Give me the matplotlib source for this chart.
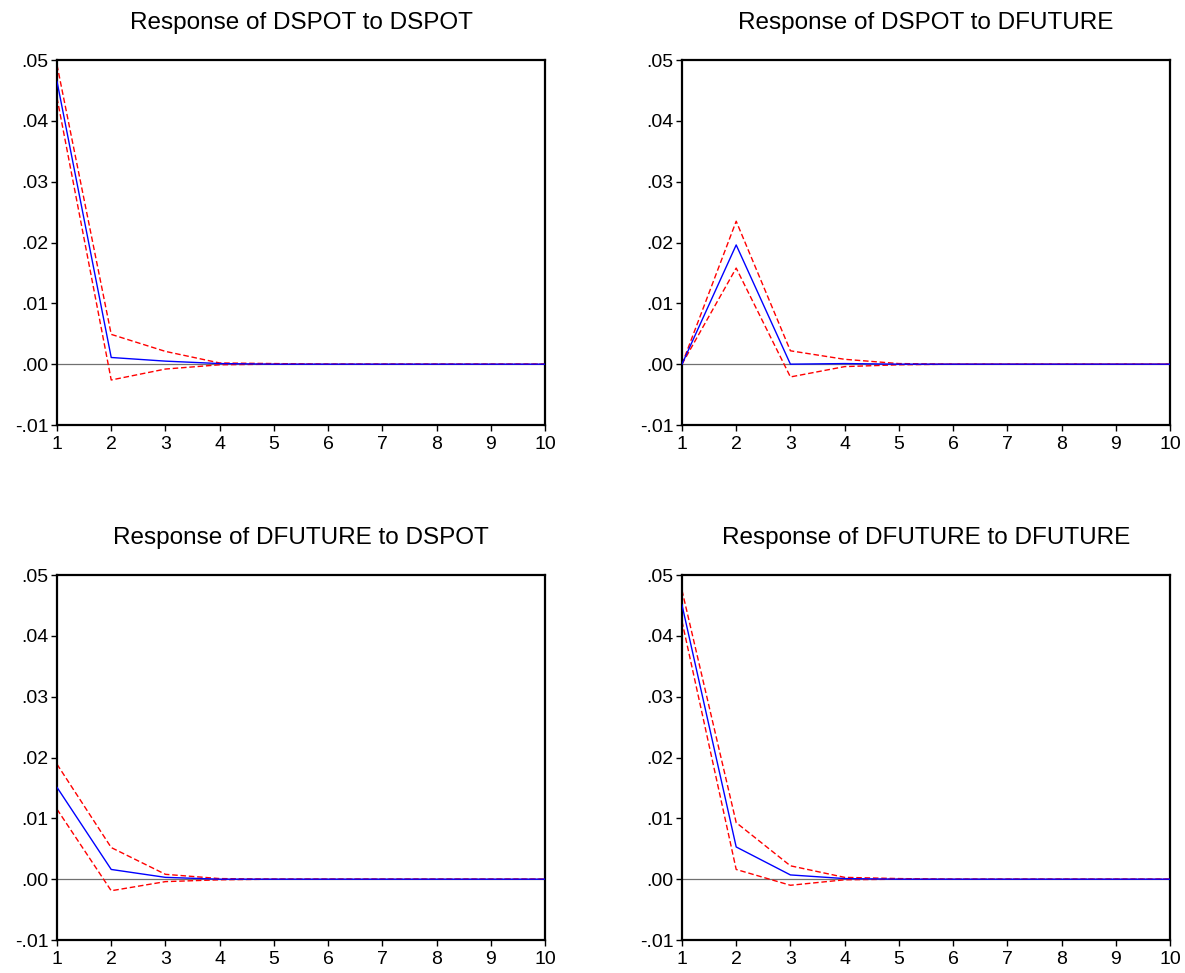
import matplotlib
matplotlib.use('Agg')
import matplotlib.pyplot as plt

plt.rcParams['font.family'] = ['Liberation Sans', 'DejaVu Sans']

periods = [1, 2, 3, 4, 5, 6, 7, 8, 9, 10]

titles = ['Response of DSPOT to DSPOT', 'Response of DSPOT to DFUTURE',
          'Response of DFUTURE to DSPOT', 'Response of DFUTURE to DFUTURE']

# impulse responses (blue) and +/- 2 s.e. bands (red dashed)
resp_ss = [0.0465, 0.0011, 0.0005, 0.0001, 0.0, 0.0, 0.0, 0.0, 0.0, 0.0]
up_ss = [0.0492, 0.0049, 0.0021, 0.0002, 0.0001, 0.0, 0.0, 0.0, 0.0, 0.0]
lo_ss = [0.0438, -0.0026, -0.0008, -0.0001, 0.0, 0.0, 0.0, 0.0, 0.0, 0.0]

resp_sf = [0.0, 0.0196, 0.0, 0.0001, 0.0, 0.0, 0.0, 0.0, 0.0, 0.0]
up_sf = [0.0, 0.0235, 0.0022, 0.0008, 0.0001, 0.0, 0.0, 0.0, 0.0, 0.0]
lo_sf = [0.0, 0.0158, -0.0021, -0.0004, -0.0001, 0.0, 0.0, 0.0, 0.0, 0.0]

resp_fs = [0.0151, 0.0016, 0.0003, 0.0, 0.0, 0.0, 0.0, 0.0, 0.0, 0.0]
up_fs = [0.0189, 0.0052, 0.0008, 0.0001, 0.0, 0.0, 0.0, 0.0, 0.0, 0.0]
lo_fs = [0.0115, -0.0019, -0.0004, -0.0001, 0.0, 0.0, 0.0, 0.0, 0.0, 0.0]

resp_ff = [0.0451, 0.0053, 0.0007, 0.0001, 0.0, 0.0, 0.0, 0.0, 0.0, 0.0]
up_ff = [0.0475, 0.0093, 0.0022, 0.0003, 0.0001, 0.0, 0.0, 0.0, 0.0, 0.0]
lo_ff = [0.0424, 0.0016, -0.0010, -0.0001, 0.0, 0.0, 0.0, 0.0, 0.0, 0.0]

yticks = [-0.01, 0.0, 0.01, 0.02, 0.03, 0.04, 0.05]
ylabels = ['-.01', '.00', '.01', '.02', '.03', '.04', '.05']

series = [(resp_ss, up_ss, lo_ss), (resp_sf, up_sf, lo_sf),
          (resp_fs, up_fs, lo_fs), (resp_ff, up_ff, lo_ff)]

fig = plt.figure(figsize=(11.85, 9.73), dpi=100)
lefts = [0.0481, 0.5755]
bottoms = [0.5632, 0.0339]

for i in range(4):
    ax = fig.add_axes([lefts[i % 2], bottoms[i // 2], 0.4118, 0.3751])
    resp, up, lo = series[i]
    ax.axhline(0, color='#707070', lw=0.9, zorder=1)
    ax.plot(periods, up, color='red', lw=1.0, ls=(0, (4, 2)), zorder=2)
    ax.plot(periods, lo, color='red', lw=1.0, ls=(0, (4, 2)), zorder=2)
    ax.plot(periods, resp, color='blue', lw=1.0, zorder=3)
    ax.set_xlim(1, 10)
    ax.set_ylim(-0.01, 0.05)
    ax.set_xticks(periods)
    ax.set_yticks(yticks)
    ax.set_yticklabels(ylabels)
    ax.tick_params(direction='out', length=4, width=1, labelsize=14, pad=2)
    ax.tick_params(axis='x', pad=4)
    ax.tick_params(top=False, right=False)
    for s in ax.spines.values():
        s.set_linewidth(1.6)
    ax.set_title(titles[i], fontsize=17.5, pad=22)

fig.savefig('out.png', dpi=100)
